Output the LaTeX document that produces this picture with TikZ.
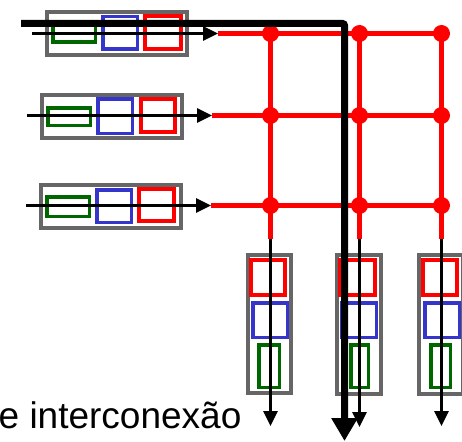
\documentclass[tikz,border=0pt]{standalone}
\usepackage{fontspec}
\setmainfont{Liberation Sans}
\usetikzlibrary{arrows.meta}
\definecolor{frame}{HTML}{666666}
\definecolor{qgreen}{HTML}{006600}
\definecolor{qblue}{HTML}{3535CC}
\definecolor{qred}{HTML}{FF0000}
\begin{document}
\begin{tikzpicture}[x=1pt,y=-1pt,
  holder/.style={draw=frame,line width=3.5pt,fill=white,inner sep=0,minimum width=#1},
  slotg/.style={draw=qgreen,line width=3.5pt,inner sep=0},
  slotb/.style={draw=qblue,line width=3.5pt,inner sep=0},
  slotr/.style={draw=qred,line width=4pt,inner sep=0},
  wire/.style={draw=qred,line width=4.5pt},
  junction/.style={circle,fill=qred,inner sep=0,minimum size=17pt},
  flow/.style={draw=black,line width=3pt,-{Triangle[width=14pt,length=15pt]}},
  path/.style={draw=black,line width=7pt,rounded corners=2pt,-{Triangle[width=25pt,length=23pt]}}]
\useasboundingbox (0,0) rectangle (462,441);

% input buffers (left)
\node[holder=140pt,minimum height=43pt] (in1) at (117,33.5) {};
\node[slotg,minimum width=42.5pt,minimum height=16.5pt] (g1) at (74,34) {};
\node[slotb,minimum width=34.5pt,minimum height=32.5pt] (u1) at (120,33) {};
\node[slotr,minimum width=36pt,minimum height=33pt] (r1) at (163,32.5) {};

\node[holder=140pt,minimum height=43pt] (in2) at (112,116.5) {};
\node[slotg,minimum width=42.5pt,minimum height=17.5pt] (g2) at (69,116.5) {};
\node[slotb,minimum width=34.5pt,minimum height=34.5pt] (u2) at (115,116) {};
\node[slotr,minimum width=34pt,minimum height=33pt] (r2) at (158,115.5) {};

\node[holder=140pt,minimum height=43pt] (in3) at (111,206.5) {};
\node[slotg,minimum width=42.5pt,minimum height=19.5pt] (g3) at (68,206.5) {};
\node[slotb,minimum width=34.5pt,minimum height=32.5pt] (u3) at (114,206) {};
\node[slotr,minimum width=35pt,minimum height=32pt] (r3) at (156.5,205) {};

% output buffers (bottom)
\node[holder=43pt,minimum height=138pt] (out1) at (269.5,324) {};
\node[slotr,minimum width=34pt,minimum height=35pt] (or1) at (268,277.5) {};
\node[slotb,minimum width=34.5pt,minimum height=34.5pt] (ob1) at (270,320) {};
\node[slotg,minimum width=20.5pt,minimum height=42.5pt] (og1) at (269,366) {};

\node[holder=44pt,minimum height=139pt] (out2) at (359,324.5) {};
\node[slotr,minimum width=35pt,minimum height=35pt] (or2) at (357.5,277.5) {};
\node[slotb,minimum width=34.5pt,minimum height=34.5pt] (ob2) at (359,320) {};
\node[slotg,minimum width=17.5pt,minimum height=42.5pt] (og2) at (359.5,366) {};

\node[holder=44pt,minimum height=139pt] (out3) at (441,324.5) {};
\node[slotr,minimum width=34pt,minimum height=35pt] (or3) at (440,277.5) {};
\node[slotb,minimum width=34.5pt,minimum height=34.5pt] (ob3) at (442,320) {};
\node[slotg,minimum width=19.5pt,minimum height=42.5pt] (og3) at (440.5,366) {};

% crossbar end points
\coordinate (s1) at (32,33.5);
\coordinate (s2) at (27,115.5);
\coordinate (s3) at (26,205.5);
\coordinate (e1) at (218,33.5);
\coordinate (e2) at (212,115.5);
\coordinate (e3) at (211,205.5);
\coordinate (d1) at (270.5,239);
\coordinate (d2) at (359.5,239);
\coordinate (d3) at (441.5,239);
\coordinate (t1) at (270.5,426);
\coordinate (t2) at (359.5,427);
\coordinate (t3) at (441.5,426);

% crosspoints
\foreach \r/\y in {1/33.5,2/115.5,3/205.5}
  \foreach \c/\x in {1/270.5,2/359.5,3/441.5}
    \coordinate (x\r\c) at (\x,\y);

% crossbar wires
\path[wire] (e1) -- (x11) -- (x12) -- (x13);
\path[wire] (e2) -- (x21) -- (x22) -- (x23);
\path[wire] (e3) -- (x31) -- (x32) -- (x33);
\path[wire] (x11) -- (x21) -- (x31) -- (d1);
\path[wire] (x12) -- (x22) -- (x32) -- (d2);
\path[wire] (x13) -- (x23) -- (x33) -- (d3);
\foreach \r in {1,2,3}
  \foreach \c in {1,2,3}
    \node[junction] (j\r\c) at (x\r\c) {};

% traffic into and out of the switch
\path[flow] (s1) -- (e1);
\path[flow] (s2) -- (e2);
\path[flow] (s3) -- (e3);
\path[flow] (d1) -- (t1);
\path[flow] (d2) -- (t2);
\path[flow] (d3) -- (t3);

% highlighted route through the fabric
\coordinate (p0) at (21,23.5);
\coordinate (p1) at (344.5,23.5);
\coordinate (p2) at (344.5,441);
\path[path] (p0) -- (p1) -- (p2);

\node[anchor=base west,inner sep=0,font=\fontsize{37}{44}\selectfont] (label) at (-1.5,428) {e interconexão};
\end{tikzpicture}
\end{document}
